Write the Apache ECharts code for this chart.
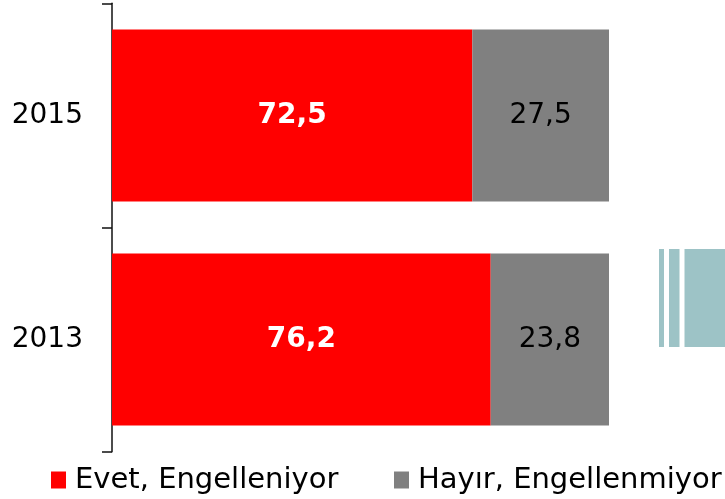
<!DOCTYPE html>
<html>
<head>
<meta charset="utf-8">
<style>
html,body{margin:0;padding:0;background:#fff;}
#chart{width:725px;height:499px;}
</style>
<script src="https://cdn.jsdelivr.net/npm/echarts@6/dist/echarts.min.js"></script>
</head>
<body>
<div id="chart"></div>
<script>
var categories = ['2015', '2013'];
var seriesNames = ['Evet, Engelleniyor', 'Hayır, Engellenmiyor'];
var evetValues = [72.5, 76.2];
var hayirValues = [27.5, 23.8];

var FONT = 'Verdana, "DejaVu Sans", sans-serif';
function fmt(p){ return p.value.toFixed(1).replace('.', ','); }

function legendFor(name, left){
  return {
    left: left,
    top: 465,
    padding: 0,
    itemWidth: 15,
    itemHeight: 17,
    icon: 'rect',
    selectedMode: false,
    textStyle: {color: '#000', fontSize: 29, fontFamily: FONT, lineHeight: 30, padding: [0,0,0,4]},
    data: [name]
  };
}

var chart = echarts.init(document.getElementById('chart'), null, {renderer:'canvas'});
chart.setOption({
  animation: false,
  backgroundColor: '#ffffff',
  grid: {left: 112, top: 3.3, width: 497, height: 448.4, containLabel: false},
  xAxis: {
    type: 'value', min: 0, max: 100, show: false
  },
  yAxis: {
    type: 'category',
    data: categories,
    inverse: true,
    axisLine: {show: true, lineStyle: {color: '#111', width: 1.5}},
    axisTick: {show: true, length: 10, lineStyle: {color: '#111', width: 1.5}},
    axisLabel: {color: '#000', fontSize: 28, fontFamily: FONT, margin: 29}
  },
  legend: [legendFor(seriesNames[0], 51), legendFor(seriesNames[1], 394)],
  series: [
    {
      name: seriesNames[0], type: 'bar', stack: 'total', barWidth: 172,
      data: evetValues,
      itemStyle: {color: '#FF0000'},
      label: {show: true, position: 'inside', formatter: fmt, color: '#fff', fontWeight: 'bold', fontSize: 28, fontFamily: FONT}
    },
    {
      name: seriesNames[1], type: 'bar', stack: 'total', barWidth: 172,
      data: hayirValues,
      itemStyle: {color: '#808080'},
      label: {show: true, position: 'inside', formatter: fmt, color: '#000', fontSize: 28, fontFamily: FONT}
    }
  ],
  graphic: [
    {type: 'rect', shape: {x: 659, y: 249, width: 5, height: 98}, style: {fill: '#9DC3C6'}},
    {type: 'rect', shape: {x: 669, y: 249, width: 10.5, height: 98}, style: {fill: '#9DC3C6'}},
    {type: 'rect', shape: {x: 684.5, y: 249, width: 41, height: 98}, style: {fill: '#9DC3C6'}}
  ]
});
</script>
</body>
</html>
